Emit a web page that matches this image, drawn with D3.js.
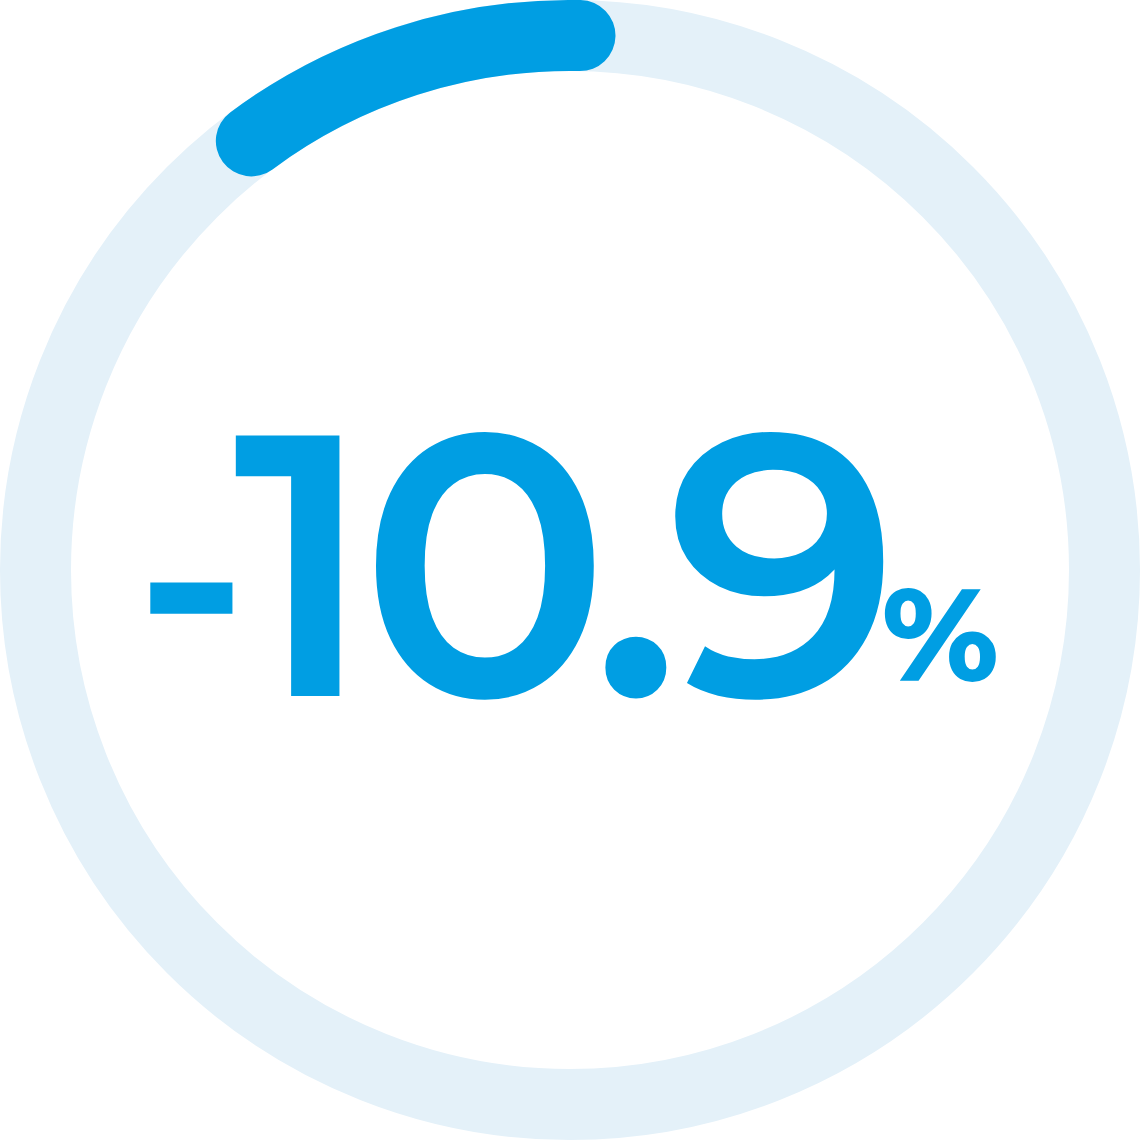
<!DOCTYPE html>
<html>
<head>
<meta charset="utf-8">
<script src="https://cdn.jsdelivr.net/npm/d3@7"></script>
<style>
  html, body { margin: 0; padding: 0; background: #fff; }
  svg { display: block; }
</style>
</head>
<body>
<svg id="chart" width="1140" height="1140"></svg>
<script>
// data
var values = [-10.9];
var signLabels = ["-"];
var numberLabels = ["10.9"];
var unitLabels = ["%"];

var W = 1140, H = 1140;
var cx = 570, cy = 570;
var ringR = 534.5, ringW = 71;
var trackColor = "#e4f1f9";
var mainColor = "#009ee3";
var font = "'Montserrat', 'Noto Sans', sans-serif";

var svg = d3.select("#chart");

// value -> angle (clockwise from 12 o'clock)
var angle = d3.scaleLinear().domain([0, 100]).range([0, 2 * Math.PI * 0.96]);
var startOffset = 0.0187;

// track
svg.append("circle")
  .attr("cx", cx).attr("cy", cy).attr("r", ringR)
  .attr("fill", "none")
  .attr("stroke", trackColor)
  .attr("stroke-width", ringW);

// progress arc
function arcPath(v) {
  var a0 = startOffset, a1 = startOffset + angle(v);
  var p = d3.path();
  // canvas angle: 0 at 3 o'clock, so shift by -PI/2
  p.arc(cx, cy, ringR, a0 - Math.PI / 2, a1 - Math.PI / 2, v < 0);
  return p.toString();
}

svg.selectAll("path.progress")
  .data(values)
  .join("path")
  .classed("progress", true)
  .attr("d", function(d) { return arcPath(d); })
  .attr("fill", "none")
  .attr("stroke", mainColor)
  .attr("stroke-width", ringW)
  .attr("stroke-linecap", "round");

// big number: sign + digits
var txt = svg.append("text")
  .attr("y", 696)
  .attr("fill", mainColor)
  .style("font-family", font)
  .style("font-weight", 600);

txt.selectAll("tspan.sign")
  .data(signLabels)
  .join("tspan")
  .classed("sign", true)
  .attr("x", 134)
  .attr("dy", -15)
  .style("font-size", "298px")
  .text(function(d) { return d; });

txt.selectAll("tspan.num")
  .data(numberLabels)
  .join("tspan")
  .classed("num", true)
  .attr("x", 233)
  .attr("dy", 15)
  .style("letter-spacing", "-15px")
  .style("font-size", "372px")
  .text(function(d) { return d; });

svg.selectAll("text.unit")
  .data(unitLabels)
  .join("text")
  .classed("unit", true)
  .attr("x", 882)
  .attr("y", 681)
  .style("font-family", font)
  .style("font-weight", 800)
  .style("font-size", "130px")
  .attr("fill", mainColor)
  .text(function(d) { return d; });
</script>
</body>
</html>
